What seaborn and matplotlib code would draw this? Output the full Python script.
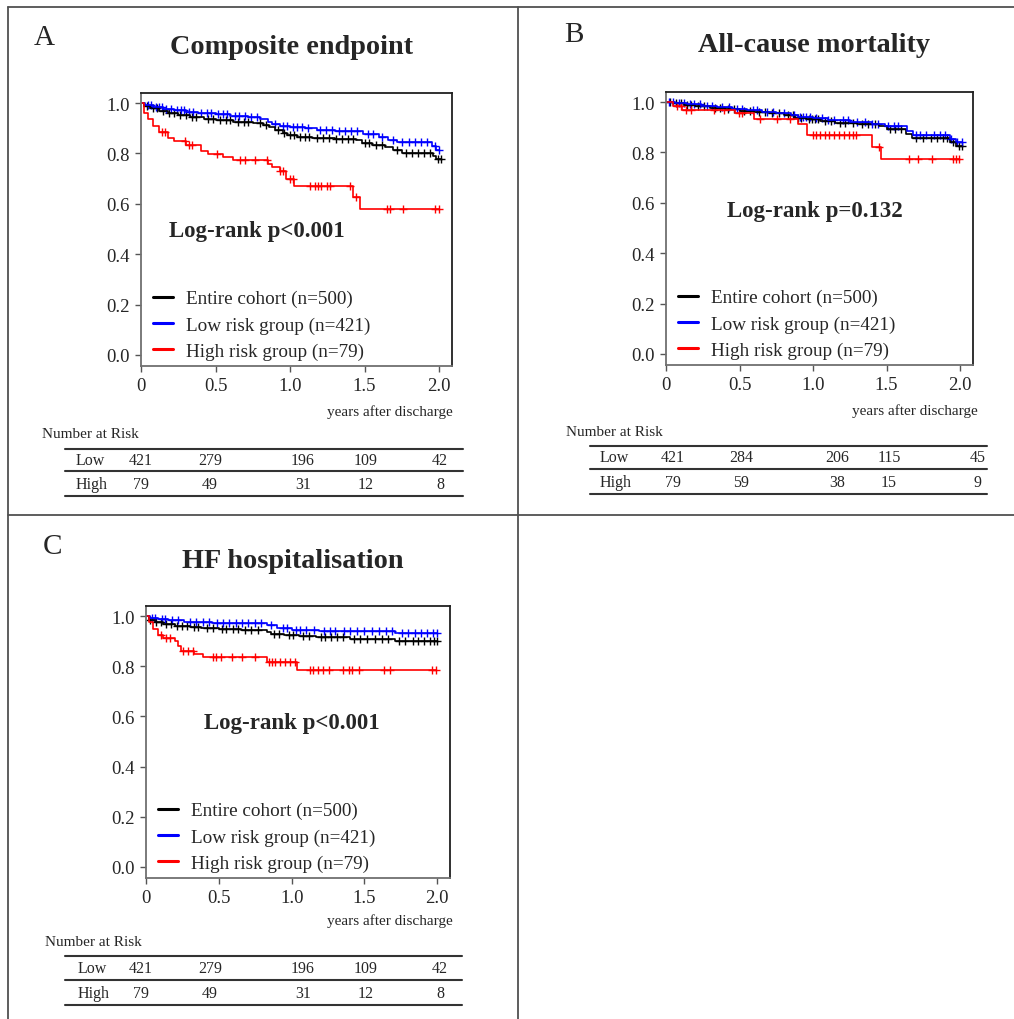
"""Kaplan-Meier curves by risk group, three endpoints, with number-at-risk tables."""

import matplotlib

matplotlib.use("Agg")
import matplotlib.pyplot as plt
import numpy as np
import pandas as pd
import seaborn as sns
from matplotlib.lines import Line2D

W, H = 1014, 1020

# ---------------- data ----------------
group_names = ["Entire cohort (n=500)", "Low risk group (n=421)", "High risk group (n=79)"]
group_colors = ["black", "#0000ff", "#ff0000"]
row_labels = ["Low", "High"]

# A: composite endpoint
a_all_t = [0, 0.02, 0.06, 0.12, 0.18, 0.25, 0.33, 0.42, 0.5, 0.62, 0.75, 0.82, 0.86, 0.9, 0.95,
           0.98, 1.05, 1.15, 1.3, 1.44, 1.48, 1.55, 1.64, 1.69, 1.75, 1.96, 1.98]
a_all_s = [1.0, 0.99, 0.98, 0.97, 0.962, 0.952, 0.945, 0.938, 0.931, 0.926, 0.92, 0.913, 0.905,
           0.895, 0.882, 0.872, 0.866, 0.861, 0.857, 0.852, 0.84, 0.835, 0.826, 0.812, 0.803, 0.79, 0.778]
a_all_cens = [0.04, 0.08, 0.11, 0.15, 0.19, 0.22, 0.26, 0.3, 0.34, 0.37, 0.45, 0.48, 0.53, 0.57,
              0.6, 0.65, 0.69, 0.72, 0.8, 0.84, 0.92, 0.96, 1.0, 1.03, 1.07, 1.1, 1.13, 1.18, 1.22,
              1.26, 1.31, 1.35, 1.39, 1.42, 1.5, 1.53, 1.58, 1.62, 1.72, 1.78, 1.82, 1.86, 1.9,
              1.94, 1.99, 2.01]
a_low_t = [0, 0.03, 0.08, 0.15, 0.22, 0.3, 0.38, 0.5, 0.6, 0.72, 0.8, 0.85, 0.88, 0.93, 1.0,
           1.1, 1.18, 1.3, 1.49, 1.6, 1.66, 1.72, 1.95, 1.98]
a_low_s = [1.0, 0.992, 0.985, 0.978, 0.972, 0.966, 0.96, 0.955, 0.95, 0.945, 0.935, 0.925, 0.915,
           0.91, 0.905, 0.9, 0.895, 0.889, 0.878, 0.865, 0.855, 0.845, 0.83, 0.812]
a_low_cens = [0.05, 0.07, 0.1, 0.12, 0.14, 0.17, 0.2, 0.24, 0.27, 0.29, 0.32, 0.35, 0.4, 0.44,
              0.47, 0.52, 0.55, 0.58, 0.63, 0.66, 0.7, 0.74, 0.78, 0.9, 0.95, 0.98, 1.02, 1.05,
              1.08, 1.12, 1.2, 1.24, 1.28, 1.33, 1.37, 1.41, 1.45, 1.52, 1.56, 1.62, 1.69, 1.75,
              1.8, 1.84, 1.88, 1.92, 1.97, 2.0]
a_high_t = [0, 0.02, 0.05, 0.08, 0.12, 0.18, 0.22, 0.3, 0.4, 0.45, 0.55, 0.62, 0.85, 0.88, 0.93,
            0.97, 1.03, 1.42, 1.47]
a_high_s = [1.0, 0.962, 0.937, 0.91, 0.886, 0.86, 0.848, 0.835, 0.81, 0.797, 0.786, 0.775, 0.758,
            0.745, 0.73, 0.70, 0.672, 0.627, 0.579]
a_high_cens = [0.14, 0.16, 0.295, 0.32, 0.34, 0.51, 0.665, 0.70, 0.765, 0.845, 0.93, 0.955, 1.0,
               1.02, 1.135, 1.165, 1.19, 1.21, 1.245, 1.27, 1.40, 1.445, 1.65, 1.67, 1.76, 1.975, 2.0]
a_risk_low = [421, 279, 196, 109, 42]
a_risk_high = [79, 49, 31, 12, 8]

# B: all-cause mortality
b_all_t = [0, 0.05, 0.12, 0.2, 0.3, 0.4, 0.5, 0.6, 0.7, 0.8, 0.88, 0.95, 1.05, 1.15, 1.3, 1.45,
           1.5, 1.63, 1.67, 1.93, 1.97]
b_all_s = [1.0, 0.995, 0.99, 0.984, 0.978, 0.972, 0.966, 0.96, 0.955, 0.948, 0.938, 0.932, 0.925,
           0.918, 0.912, 0.905, 0.895, 0.875, 0.856, 0.843, 0.827]
b_all_cens = [0.03, 0.07, 0.1, 0.14, 0.17, 0.22, 0.26, 0.33, 0.37, 0.42, 0.46, 0.53, 0.57, 0.63,
              0.67, 0.72, 0.77, 0.83, 0.86, 0.9, 0.92, 0.97, 0.99, 1.01, 1.03, 1.08, 1.12, 1.18,
              1.22, 1.27, 1.33, 1.37, 1.42, 1.52, 1.56, 1.6, 1.7, 1.75, 1.8, 1.84, 1.88, 1.91,
              1.95, 1.99, 2.01]
b_low_t = [0, 0.06, 0.14, 0.24, 0.35, 0.45, 0.55, 0.65, 0.75, 0.85, 0.9, 1.0, 1.1, 1.25, 1.4,
           1.49, 1.64, 1.68, 1.93, 1.97]
b_low_s = [1.0, 0.996, 0.991, 0.985, 0.979, 0.973, 0.967, 0.96, 0.955, 0.948, 0.94, 0.935, 0.929,
           0.92, 0.912, 0.905, 0.885, 0.869, 0.853, 0.84]
b_low_cens = [0.02, 0.05, 0.09, 0.12, 0.16, 0.19, 0.23, 0.28, 0.31, 0.38, 0.43, 0.48, 0.52, 0.59,
              0.62, 0.69, 0.73, 0.8, 0.87, 0.91, 0.93, 0.95, 0.98, 1.02, 1.06, 1.1, 1.14, 1.2,
              1.24, 1.3, 1.35, 1.4, 1.44, 1.51, 1.55, 1.58, 1.7, 1.73, 1.77, 1.82, 1.86, 1.9,
              1.94, 1.98, 2.01]
b_high_t = [0, 0.05, 0.11, 0.47, 0.6, 0.9, 0.96, 1.4, 1.46]
b_high_s = [1.0, 0.985, 0.97, 0.955, 0.933, 0.912, 0.869, 0.823, 0.774]
b_high_cens = [0.072, 0.105, 0.139, 0.172, 0.329, 0.396, 0.497, 0.519, 0.642, 0.754, 0.843,
               1.0, 1.02, 1.044, 1.078, 1.11, 1.145, 1.178, 1.212, 1.246, 1.268, 1.29, 1.447,
               1.65, 1.716, 1.805, 1.95, 1.973, 1.995]
b_risk_low = [421, 284, 206, 115, 45]
b_risk_high = [79, 59, 38, 15, 9]

# C: HF hospitalisation
c_all_t = [0, 0.02, 0.06, 0.12, 0.2, 0.3, 0.38, 0.5, 0.65, 0.83, 0.86, 0.95, 1.05, 1.17, 1.4, 1.71]
c_all_s = [1.0, 0.985, 0.975, 0.967, 0.96, 0.955, 0.951, 0.947, 0.943, 0.938, 0.93, 0.925, 0.92,
           0.915, 0.91, 0.9]
c_all_cens = [0.03, 0.07, 0.1, 0.14, 0.17, 0.21, 0.25, 0.28, 0.33, 0.36, 0.42, 0.46, 0.52, 0.55,
              0.6, 0.63, 0.68, 0.72, 0.77, 0.88, 0.91, 0.98, 1.01, 1.08, 1.12, 1.2, 1.23, 1.27,
              1.31, 1.35, 1.43, 1.47, 1.52, 1.57, 1.62, 1.66, 1.74, 1.78, 1.83, 1.87, 1.91, 1.95,
              1.98, 2.0]
c_low_t = [0, 0.03, 0.08, 0.15, 0.26, 0.45, 0.6, 0.83, 0.9, 1.0, 1.19, 1.71]
c_low_s = [1.0, 0.993, 0.988, 0.983, 0.977, 0.974, 0.972, 0.965, 0.951, 0.946, 0.942, 0.932]
c_low_cens = [0.04, 0.06, 0.11, 0.13, 0.18, 0.22, 0.3, 0.34, 0.39, 0.43, 0.49, 0.53, 0.57, 0.62,
              0.66, 0.7, 0.75, 0.79, 0.86, 0.94, 0.97, 1.03, 1.06, 1.1, 1.15, 1.22, 1.26, 1.3,
              1.36, 1.4, 1.45, 1.5, 1.55, 1.6, 1.65, 1.69, 1.76, 1.8, 1.85, 1.89, 1.93, 1.97, 2.0]
c_high_t = [0, 0.02, 0.05, 0.08, 0.12, 0.2, 0.22, 0.24, 0.33, 0.39, 0.83, 1.04]
c_high_s = [1.0, 0.975, 0.95, 0.925, 0.912, 0.9, 0.882, 0.862, 0.848, 0.835, 0.818, 0.785]
c_high_cens = [0.106, 0.14, 0.163, 0.253, 0.287, 0.321, 0.457, 0.479, 0.513, 0.592, 0.66, 0.75,
               0.841, 0.863, 0.886, 0.92, 0.953, 0.987, 1.021, 1.123, 1.146, 1.18, 1.213, 1.258,
               1.349, 1.394, 1.417, 1.462, 1.632, 1.677, 1.96, 1.994]
c_risk_low = [421, 279, 196, 109, 42]
c_risk_high = [79, 49, 31, 12, 8]


# ---------------- layout (pixels of the 1014x1020 figure) ----------------
panels = [
    dict(letter="A", title="Composite endpoint", logrank="Log-rank p<0.001",
         curves=[(a_all_t, a_all_s, a_all_cens), (a_low_t, a_low_s, a_low_cens),
                 (a_high_t, a_high_s, a_high_cens)],
         risk=(a_risk_low, a_risk_high),
         ax_box=(141, 94, 452, 367), letter_xy=(44, 38), title_xy=(291, 48),
         logrank_xy=(257, 231), xlab_xy=(453, 412), nar_xy=(42, 435),
         tab_x=(65, 463), tab_lines=(450, 472, 497), tab_rows=(461, 485),
         tab_label_x=76, tab_cols=(141, 210, 303, 366, 440)),
    dict(letter="B", title="All-cause mortality", logrank="Log-rank p=0.132",
         curves=[(b_all_t, b_all_s, b_all_cens), (b_low_t, b_low_s, b_low_cens),
                 (b_high_t, b_high_s, b_high_cens)],
         risk=(b_risk_low, b_risk_high),
         ax_box=(666, 93, 973, 366), letter_xy=(574, 35), title_xy=(814, 45),
         logrank_xy=(815, 212), xlab_xy=(978, 411), nar_xy=(566, 432),
         tab_x=(590, 987), tab_lines=(447, 470, 495), tab_rows=(458, 483),
         tab_label_x=600, tab_cols=(673, 741, 837, 889, 978)),
    dict(letter="C", title="HF hospitalisation", logrank="Log-rank p<0.001",
         curves=[(c_all_t, c_all_s, c_all_cens), (c_low_t, c_low_s, c_low_cens),
                 (c_high_t, c_high_s, c_high_cens)],
         risk=(c_risk_low, c_risk_high),
         ax_box=(146, 607, 450, 879), letter_xy=(52, 547), title_xy=(293, 561),
         logrank_xy=(292, 723), xlab_xy=(453, 921), nar_xy=(45, 942),
         tab_x=(65, 462), tab_lines=(957, 981, 1006), tab_rows=(969, 994),
         tab_label_x=78, tab_cols=(141, 210, 303, 366, 440)),
]


def fx(x):
    return x / W


def fy(y):
    return 1 - y / H


def fig_line(fig, xs, ys, color="#333333", lw=1.4):
    fig.add_artist(Line2D([fx(x) for x in xs], [fy(y) for y in ys],
                          transform=fig.transFigure, color=color, lw=lw))


sns.set_theme(style="white")
plt.rcParams["font.family"] = ["Liberation Serif", "DejaVu Serif"]

fig = plt.figure(figsize=(W / 100, H / 100), dpi=100)

for p in panels:
    l, t, r, b = p["ax_box"]
    ax = fig.add_axes([fx(l), fy(b), fx(r) - fx(l), fy(t) - fy(b)])

    for (times, surv, cens), name, col in zip(p["curves"], group_names, group_colors):
        t_end = max(max(cens), times[-1])
        curve = pd.DataFrame({"t": list(times) + [t_end], "s": list(surv) + [surv[-1]]})
        sns.lineplot(data=curve, x="t", y="s", drawstyle="steps-post", color=col,
                     lw=1.2, label=name, ax=ax, estimator=None, sort=False)
        idx = np.searchsorted(np.asarray(times), np.asarray(cens), side="right") - 1
        cdf = pd.DataFrame({"t": cens, "s": np.asarray(surv)[idx]})
        sns.scatterplot(data=cdf, x="t", y="s", marker="+", s=34, color=col,
                        linewidth=1.0, ax=ax, legend=False)

    ax.set_xlim(0, 2.087)
    ax.set_ylim(-0.044, 1.04)
    ax.set_xticks([0, 0.5, 1.0, 1.5, 2.0], ["0", "0.5", "1.0", "1.5", "2.0"])
    ax.set_yticks(np.arange(0, 1.01, 0.2), [f"{v:.1f}" for v in np.arange(0, 1.01, 0.2)])
    ax.set_xlabel("")
    ax.set_ylabel("")
    ax.tick_params(axis="both", labelsize=13.5, length=4, width=1, color="#555555",
                   direction="out", pad=4, bottom=True, left=True)
    for side in ["left", "bottom"]:
        ax.spines[side].set_color("#707070")
        ax.spines[side].set_linewidth(1.3)
    for side in ["top", "right"]:
        ax.spines[side].set_color("#202020")
        ax.spines[side].set_linewidth(1.3)

    leg = ax.legend(loc="lower left", bbox_to_anchor=(0.008, -0.012), frameon=False,
                    fontsize=13.8, handlelength=1.05, handletextpad=0.65,
                    labelspacing=0.45, borderaxespad=0.05, borderpad=0.45)
    for h in leg.get_lines():
        h.set_linewidth(2.2)

    lx, ly = p["logrank_xy"]
    fig.text(fx(lx), fy(ly), p["logrank"], ha="center", va="center",
             fontsize=16.5, fontweight="bold")

    # panel letter and title
    fig.text(fx(p["letter_xy"][0]), fy(p["letter_xy"][1]), p["letter"],
             ha="center", va="center", fontsize=21)
    fig.text(fx(p["title_xy"][0]), fy(p["title_xy"][1]), p["title"],
             ha="center", va="center", fontsize=20.3, fontweight="bold")

    fig.text(fx(p["xlab_xy"][0]), fy(p["xlab_xy"][1]), "years after discharge",
             ha="right", va="center", fontsize=11)

    # number-at-risk table
    fig.text(fx(p["nar_xy"][0]), fy(p["nar_xy"][1]), "Number at Risk",
             ha="left", va="center", fontsize=11)
    x0, x1 = p["tab_x"]
    for y in p["tab_lines"]:
        fig_line(fig, [x0, x1], [y, y], lw=1.5)
    for label, counts, y in zip(row_labels, p["risk"], p["tab_rows"]):
        fig.text(fx(p["tab_label_x"]), fy(y), label, ha="left", va="center", fontsize=11.5)
        for cx, n in zip(p["tab_cols"], counts):
            fig.text(fx(cx), fy(y), str(n), ha="center", va="center", fontsize=11.5)

# panel frames
fig_line(fig, [8, W], [8, 8], color="#505050", lw=1.3)
fig_line(fig, [8, 8], [8, H], color="#505050", lw=1.3)
fig_line(fig, [518, 518], [8, H], color="#505050", lw=1.3)
fig_line(fig, [8, W], [516, 516], color="#505050", lw=1.3)

fig.savefig("out.png", dpi=100, facecolor="white")
